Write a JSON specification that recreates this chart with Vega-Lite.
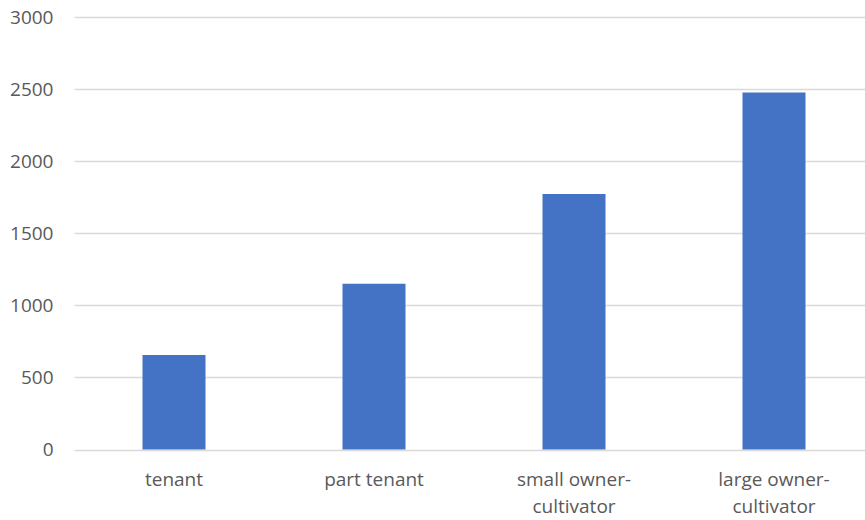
{
  "$schema": "https://vega.github.io/schema/vega-lite/v6.json",
  "autosize": "none",
  "padding": {"left": 74, "top": 17, "right": 0, "bottom": 70},
  "width": 791,
  "height": 432.5,
  "background": "white",
  "config": {
    "view": {"stroke": null},
    "font": "Open Sans"
  },
  "data": {
    "values": [
      {"category": "tenant", "value": 655},
      {"category": "part tenant", "value": 1150},
      {"category": "small owner-cultivator", "value": 1773},
      {"category": "large owner-cultivator", "value": 2476}
    ]
  },
  "mark": {"type": "bar", "color": "#4472C4"},
  "encoding": {
    "x": {
      "field": "category",
      "type": "nominal",
      "sort": null,
      "scale": {"range": [0, 800], "paddingInner": 0.685, "paddingOuter": 0.3425},
      "axis": {
        "title": null,
        "domain": false,
        "ticks": false,
        "labelAngle": 0,
        "labelFontSize": 19,
        "labelColor": "#595959",
        "labelPadding": 21,
        "labelLineHeight": 27,
        "labelExpr": "indexof(datum.label, '-') > 0 ? [slice(datum.label, 0, indexof(datum.label, '-') + 1), slice(datum.label, indexof(datum.label, '-') + 1)] : datum.label"
      }
    },
    "y": {
      "field": "value",
      "type": "quantitative",
      "scale": {"domain": [0, 3000], "nice": false},
      "axis": {
        "title": null,
        "domain": false,
        "ticks": false,
        "format": "d",
        "values": [0, 500, 1000, 1500, 2000, 2500, 3000],
        "labelFontSize": 19,
        "labelColor": "#595959",
        "labelPadding": 21,
        "gridColor": "#d9d9d9",
        "gridWidth": 1.5
      }
    }
  }
}
